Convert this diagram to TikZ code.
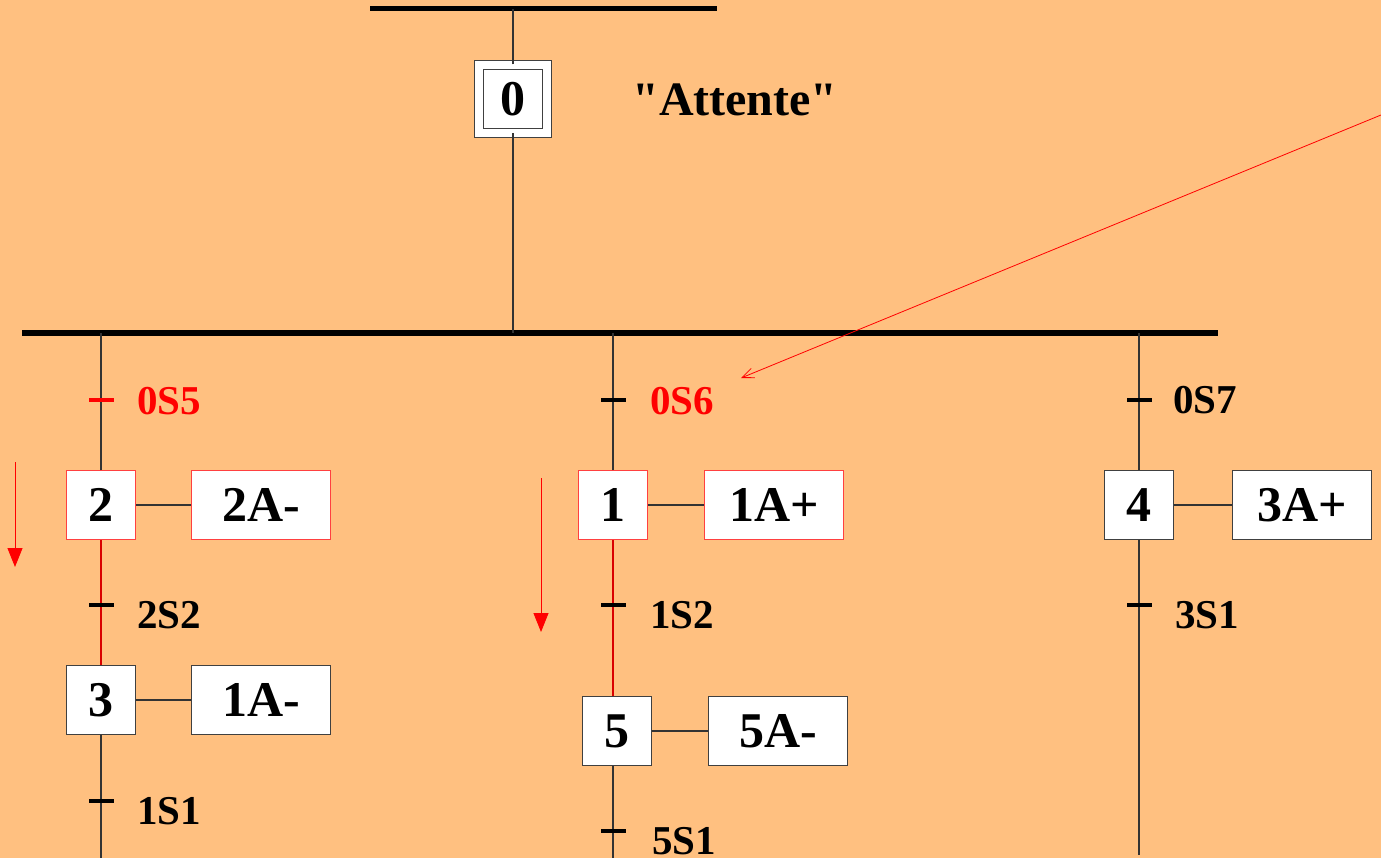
\documentclass[tikz,border=0pt]{standalone}
\usepackage{fontspec}
\setmainfont{Liberation Serif}[Ligatures=TeXOff]
\usepackage{tikz}
\usetikzlibrary{arrows,arrows.meta,positioning}
\definecolor{fond}{RGB}{255,192,128}
\definecolor{actif}{RGB}{255,0,0}
\tikzset{
  etape/.style={draw=black!75, fill=white, line width=1, minimum width=69, minimum height=69, inner sep=0, font=\fontsize{50}{50}\selectfont\bfseries},
  etapeactive/.style={etape, draw=actif!75},
  etapeinit/.style={etape, minimum width=68, minimum height=68, double=white, double distance=8},
  action/.style={etape, minimum width=139},
  actionactive/.style={action, draw=actif!75},
  tick/.style={fill=black, minimum width=25, minimum height=4, inner sep=0},
  recept/.style={anchor=west, inner sep=0, font=\fontsize{41}{41}\selectfont\bfseries},
  liaison/.style={draw=black!80, line width=1.2},
  liaisonactive/.style={draw=actif!85!black, line width=1.2},
  barre/.style={line width=5},
  evol/.style={actif, line width=0.9, -{Triangle[width=15,length=19]}}
}

\begin{document}
\begin{tikzpicture}[x=1pt,y=-1pt]
\useasboundingbox (0,0) rectangle (1381,858);
\fill[fond] (0,0) rectangle (1381,858);
% etape initiale
\coordinate (h1) at (370,9);
\coordinate (h2) at (717,9);
\draw[barre] (h1) -- (h2);
\node[etapeinit] (e0) at (513,99) {0};
\node[font=\fontsize{48}{48}\selectfont\bfseries] (att) at (735,100) {"Attente"};
\coordinate (b1) at (22,333);
\coordinate (b2) at (1218,333);
\draw[barre, line width=6] (b1) -- (b2);
\draw[liaison] (e0.north) -- (e0.north |- h1);
\draw[liaison] (e0.south) -- (e0.south |- b1);
% branche gauche
\node[etapeactive] (e2) at (101,505) {2};
\node[actionactive] (a2) at (261,505) {2A-};
\node[etape] (e3) at (101,700) {3};
\node[action] (a3) at (261,700) {1A-};
\coordinate (f1) at (101,858);
\draw[liaison] (e2.north) -- (e2.north |- b1);
\draw[liaisonactive] (e2.south) -- (e3.north);
\draw[liaison] (e3.south) -- (f1);
\draw[liaison] (e2.east) -- (a2.west);
\draw[liaison] (e3.east) -- (a3.west);
\node[tick, fill=actif] (t05) at (101,400) {};
\node[recept, actif] (r05) at (137,401) {0S5};
\node[tick] (t22) at (101,605) {};
\node[recept] (r22) at (137,615) {2S2};
\node[tick] (t11) at (101,801) {};
\node[recept] (r11) at (137,811) {1S1};
\coordinate (p1) at (15,462);
\coordinate (p2) at (15,567);
\draw[evol] (p1) -- (p2);
% branche centre
\node[etapeactive] (e1) at (613,505) {1};
\node[actionactive] (a1) at (774,505) {1A+};
\node[etape] (e5) at (617,731) {5};
\node[action] (a5) at (778,731) {5A-};
\coordinate (f2) at (613,858);
\draw[liaison] (e1.north) -- (e1.north |- b1);
\draw[liaisonactive] (e1.south) -- (e1.south |- e5.north);
\draw[liaison] (e1.south |- e5.south) -- (f2);
\draw[liaison] (e1.east) -- (a1.west);
\draw[liaison] (e5.east) -- (a5.west);
\node[tick] (t06) at (613,400) {};
\node[recept, actif] (r06) at (650,401) {0S6};
\node[tick] (t12) at (613,605) {};
\node[recept] (r12) at (650,615) {1S2};
\node[tick] (t51) at (613,831) {};
\node[recept] (r51) at (652,841) {5S1};
\coordinate (p3) at (541,478);
\coordinate (p4) at (541,632);
\draw[evol] (p3) -- (p4);
% branche droite
\node[etape] (e4) at (1139,505) {4};
\node[action] (a4) at (1302,505) {3A+};
\coordinate (f3) at (1139,855);
\draw[liaison] (e4.north) -- (e4.north |- b1);
\draw[liaison] (e4.south) -- (f3);
\draw[liaison] (e4.east) -- (a4.west);
\node[tick] (t07) at (1139,400) {};
\node[recept] (r07) at (1173,400) {0S7};
\node[tick] (t31) at (1139,605) {};
\node[recept] (r31) at (1175,615) {3S1};
% fleche vers 0S6
\coordinate (q1) at (1381,115);
\coordinate (q2) at (741,378);
\draw[actif, line width=0.8, -{Straight Barb[length=12,width=10]}] (q1) -- (q2);
\end{tikzpicture}
\end{document}
